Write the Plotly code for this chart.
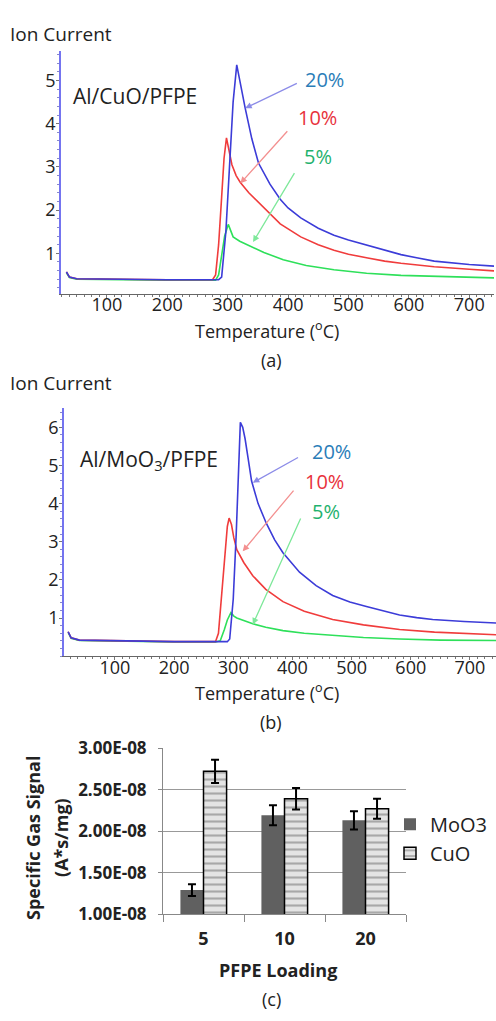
import plotly.graph_objects as go

W, H = 496, 1021
FONT = "Open Sans"

# ---------------- (a) Al/CuO/PFPE ----------------
a_t_20 = [33, 38, 50, 100, 150, 200, 250, 285, 290, 297, 303, 309, 315, 320, 325, 329, 340, 351, 370, 387, 400, 421, 450, 476, 500, 532, 560, 587, 615, 642, 700, 745]
a_v_20 = [0.57, 0.45, 0.41, 0.40, 0.40, 0.39, 0.39, 0.39, 0.45, 1.5, 3.0, 4.5, 5.36, 5.0, 4.6, 4.36, 3.65, 3.09, 2.6, 2.25, 2.05, 1.82, 1.58, 1.42, 1.31, 1.18, 1.07, 0.97, 0.89, 0.82, 0.74, 0.70]
a_t_10 = [33, 38, 50, 100, 150, 200, 250, 275, 280, 285, 290, 294, 298, 302, 307, 314, 321, 335, 351, 370, 387, 421, 450, 476, 500, 532, 560, 587, 642, 700, 745]
a_v_10 = [0.57, 0.45, 0.41, 0.40, 0.40, 0.39, 0.39, 0.39, 0.5, 1.2, 2.3, 3.2, 3.67, 3.4, 3.05, 2.8, 2.64, 2.4, 2.18, 1.9, 1.68, 1.38, 1.20, 1.07, 0.98, 0.89, 0.82, 0.77, 0.69, 0.63, 0.59]
a_t_5 = [33, 38, 50, 100, 200, 250, 280, 285, 290, 295, 301, 305, 309, 320, 338, 360, 392, 430, 476, 530, 587, 650, 700, 745]
a_v_5 = [0.55, 0.44, 0.40, 0.39, 0.38, 0.38, 0.38, 0.5, 0.9, 1.4, 1.67, 1.5, 1.38, 1.28, 1.17, 1.02, 0.85, 0.72, 0.62, 0.54, 0.49, 0.46, 0.44, 0.43]

# ---------------- (b) Al/MoO3/PFPE ----------------
b_t_20 = [21, 26, 40, 100, 150, 200, 250, 290, 294, 300, 305, 309, 312, 316, 320, 325, 331, 342, 356, 370, 384, 412, 440, 468, 497, 525, 553, 581, 610, 637, 690, 745]
b_v_20 = [0.64, 0.48, 0.42, 0.40, 0.39, 0.38, 0.38, 0.38, 0.45, 1.5, 3.2, 5.0, 6.13, 6.0, 5.7, 5.2, 4.59, 4.0, 3.48, 3.05, 2.71, 2.2, 1.85, 1.59, 1.42, 1.30, 1.18, 1.08, 1.01, 0.96, 0.91, 0.87]
b_t_10 = [21, 26, 40, 100, 200, 250, 270, 275, 280, 285, 290, 293, 297, 301, 306, 318, 333, 355, 384, 420, 468, 520, 581, 640, 700, 745]
b_v_10 = [0.64, 0.48, 0.42, 0.40, 0.38, 0.38, 0.38, 0.6, 1.5, 2.6, 3.4, 3.62, 3.45, 3.1, 2.79, 2.45, 2.11, 1.75, 1.43, 1.18, 0.96, 0.82, 0.70, 0.63, 0.59, 0.56]
b_t_5 = [21, 26, 40, 100, 200, 270, 278, 285, 290, 296, 301, 306, 320, 333, 355, 384, 420, 468, 520, 581, 650, 745]
b_v_5 = [0.62, 0.47, 0.41, 0.39, 0.37, 0.37, 0.40, 0.7, 0.95, 1.14, 1.05, 1.0, 0.92, 0.85, 0.76, 0.67, 0.60, 0.54, 0.49, 0.45, 0.42, 0.41]

series_labels = ["20%", "10%", "5%"]
line_colors = ["#3c3cd8", "#f03c3c", "#2ee05a"]
label_colors = ["#2a7db8", "#e8323c", "#1fb26e"]
arrow_colors = ["#8c8ce8", "#f39090", "#7ee89a"]

# ---------------- (c) bar chart ----------------
loadings = ["5", "10", "20"]
moo3_vals = [1.29e-8, 2.19e-8, 2.13e-8]
moo3_err = [0.07e-8, 0.12e-8, 0.11e-8]
cuo_vals = [2.72e-8, 2.39e-8, 2.27e-8]
cuo_err = [0.14e-8, 0.13e-8, 0.12e-8]
c_tickvals = [1.0e-8, 1.5e-8, 2.0e-8, 2.5e-8, 3.0e-8]
c_ticktext = ["1.00E-08", "1.50E-08", "2.00E-08", "2.50E-08", "3.00E-08"]

fig = go.Figure()

for ts, vs, col, name in [
    (a_t_5, a_v_5, line_colors[2], "5%"),
    (a_t_10, a_v_10, line_colors[1], "10%"),
    (a_t_20, a_v_20, line_colors[0], "20%"),
]:
    fig.add_trace(go.Scatter(x=ts, y=vs, mode="lines", line=dict(color=col, width=1.6),
                             showlegend=False, name=name, xaxis="x", yaxis="y"))
for ts, vs, col, name in [
    (b_t_5, b_v_5, line_colors[2], "5%"),
    (b_t_10, b_v_10, line_colors[1], "10%"),
    (b_t_20, b_v_20, line_colors[0], "20%"),
]:
    fig.add_trace(go.Scatter(x=ts, y=vs, mode="lines", line=dict(color=col, width=1.6),
                             showlegend=False, name=name, xaxis="x2", yaxis="y2"))

fig.add_trace(go.Bar(x=loadings, y=moo3_vals, name="MoO3", xaxis="x3", yaxis="y3",
                     marker=dict(color="#606060", line=dict(width=0)),
                     error_y=dict(type="data", array=moo3_err, color="black", thickness=2, width=4)))
fig.add_trace(go.Bar(x=loadings, y=cuo_vals, name="CuO", xaxis="x3", yaxis="y3",
                     marker=dict(color="#e4e4e4", line=dict(color="black", width=1.5),
                                 pattern=dict(shape="-", fgcolor="#6a6a6a", bgcolor="#e4e4e4", size=7, solidity=0.3)),
                     error_y=dict(type="data", array=cuo_err, color="black", thickness=2, width=4)))


def px_x(p):
    return p / W


def px_y(p):
    return 1 - p / H


tickfont = dict(family=FONT, size=18, color="#222")
line_axis_common = dict(showgrid=False, zeroline=False, tickfont=tickfont, ticks="outside", ticklen=3,
                        tickcolor="#777")

fig.update_layout(
    width=W, height=H, margin=dict(l=0, r=0, t=0, b=0),
    paper_bgcolor="white", plot_bgcolor="white",
    font=dict(family=FONT, color="#222"),
    barmode="group", bargap=0.43, bargroupgap=0,
    xaxis=dict(domain=[px_x(61), px_x(494)], anchor="y", range=[24, 741], tickvals=[100, 200, 300, 400, 500, 600, 700],
               showline=True, linecolor="#666", linewidth=1.2, ticklabelstandoff=-8,
               minor=dict(ticks="outside", ticklen=2, dtick=12.5, tickcolor="#777"), **line_axis_common),
    yaxis=dict(domain=[px_y(288), px_y(40)], anchor="x", range=[0.07, 5.68], tickvals=[1, 2, 3, 4, 5],
               showline=True, linecolor="#7474f0", linewidth=1.5, ticklabelstandoff=-3,
               minor=dict(ticks="outside", ticklen=2, dtick=0.2, tickcolor="#8888cc"), **line_axis_common),
    xaxis2=dict(domain=[px_x(64), 1.0], anchor="y2", range=[14, 744], tickvals=[100, 200, 300, 400, 500, 600, 700],
                showline=True, linecolor="#666", linewidth=1.2, ticklabelstandoff=-8,
                minor=dict(ticks="outside", ticklen=2, dtick=12.5, tickcolor="#777"), **line_axis_common),
    yaxis2=dict(domain=[px_y(659), px_y(405)], anchor="x2", range=[0, 6.51], tickvals=[1, 2, 3, 4, 5, 6],
                showline=True, linecolor="#7474f0", linewidth=1.5, ticklabelstandoff=-3,
                minor=dict(ticks="outside", ticklen=2, dtick=0.2, tickcolor="#8888cc"), **line_axis_common),
    xaxis3=dict(domain=[px_x(163), px_x(406)], anchor="y3", type="category",
                showline=True, linecolor="#888", linewidth=1, ticks="outside", ticklen=7, tickcolor="#888",
                tickson="boundaries", showgrid=False,
                tickfont=dict(family=FONT, size=18, color="#222", weight="bold"), ticklabelstandoff=8),
    yaxis3=dict(domain=[px_y(923), px_y(753)], anchor="x3", range=[1.0e-8, 3.0e-8],
                tickvals=c_tickvals, ticktext=c_ticktext,
                showline=True, linecolor="#888", linewidth=1, ticks="outside", ticklen=4, tickcolor="#888",
                showgrid=True, gridcolor="#999", gridwidth=1, zeroline=False,
                tickfont=dict(family=FONT, size=17, color="#222", weight="bold"), ticklabelstandoff=8),
    legend=dict(x=px_x(390), y=px_y(811), xanchor="left", yanchor="top",
                font=dict(family=FONT, size=20, color="#222"), bgcolor="rgba(0,0,0,0)",
                tracegroupgap=0, itemwidth=30),
)

ann = []


def text_ann(txt, x, y, size, xref="paper", yref="paper", color="#222", xanchor="center", bold=False, angle=0):
    if bold:
        txt = "<b>" + txt + "</b>"
    ann.append(dict(text=txt, x=x, y=y, xref=xref, yref=yref, showarrow=False, xanchor=xanchor, yanchor="middle",
                    textangle=angle, font=dict(family=FONT, size=size, color=color)))


# titles
text_ann("Ion Current", px_x(8), px_y(22), 19, xanchor="left")
text_ann("Ion Current", px_x(8), px_y(380), 19, xanchor="left")
text_ann("Al/CuO/PFPE", px_x(135), px_y(86), 21)
text_ann("Al/MoO<sub>3</sub>/PFPE", px_x(149), px_y(458), 21)
text_ann("Temperature (<sup>o</sup>C)", px_x(267), px_y(325), 18)
text_ann("Temperature (<sup>o</sup>C)", px_x(267), px_y(696), 18)
text_ann("(a)", px_x(271), px_y(356), 18)
text_ann("(b)", px_x(271), px_y(726), 18)
text_ann("(c)", px_x(271), px_y(1010), 18)
text_ann("PFPE Loading", px_x(278), px_y(980), 18, bold=True)
text_ann("Specific Gas Signal", px_x(33), px_y(845), 18, bold=True, angle=-90)
text_ann("(A*s/mg)", px_x(61), px_y(845), 18, bold=True, angle=-90)

# percent labels and arrows (data coordinates)
a_label_pos = [(460, 5.03), (449, 4.15), (450, 3.23)]
a_arrow_head = [(329, 4.36), (321, 2.62), (342, 1.26)]
a_arrow_tail = [(417, 4.95), (401, 3.86), (412, 2.89)]
b_label_pos = [(466, 5.36), (454, 4.59), (456, 3.80)]
b_arrow_head = [(333, 4.55), (316, 2.75), (333, 0.83)]
b_arrow_tail = [(412, 5.23), (404, 4.38), (415, 3.65)]

for xr, yr, lp, ah, at in [("x", "y", a_label_pos, a_arrow_head, a_arrow_tail),
                           ("x2", "y2", b_label_pos, b_arrow_head, b_arrow_tail)]:
    for i in range(3):
        text_ann(series_labels[i], lp[i][0], lp[i][1], 20, xref=xr, yref=yr, color=label_colors[i])
        ann.append(dict(text="", x=ah[i][0], y=ah[i][1], xref=xr, yref=yr, ax=at[i][0], ay=at[i][1],
                        axref=xr, ayref=yr, showarrow=True, arrowhead=2, arrowsize=1, arrowwidth=1.3,
                        arrowcolor=arrow_colors[i]))

fig.update_layout(annotations=ann)
fig.write_html("out.html", config={"displayModeBar": False},
               post_script="document.body.style.margin='0';document.body.style.overflow='hidden';")
